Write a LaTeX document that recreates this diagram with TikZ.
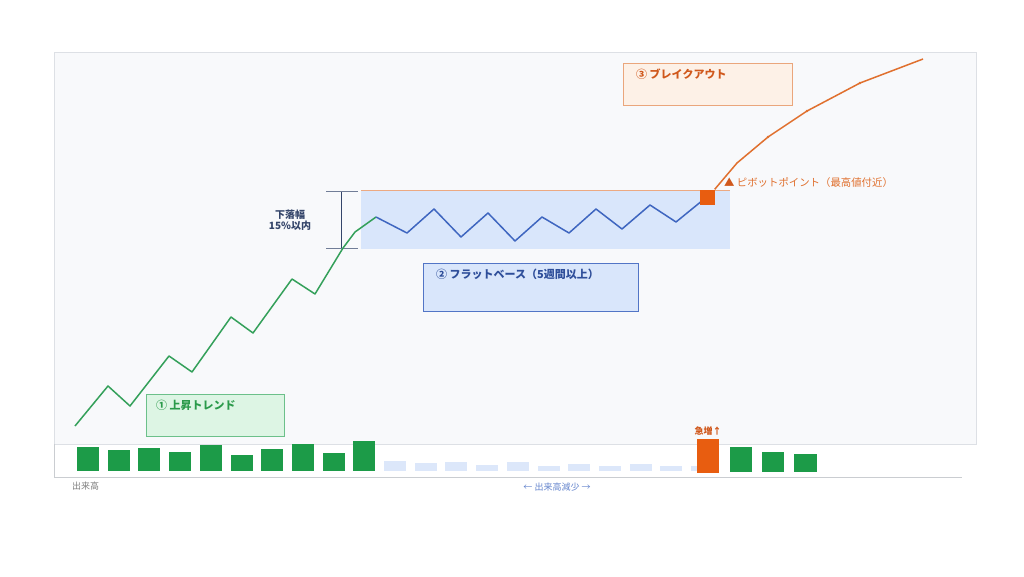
\documentclass[tikz,border=0pt]{standalone}
\usepackage{fontspec}
\setmainfont{Noto Sans CJK JP}
\definecolor{panelfill}{HTML}{F8F9FB}
\definecolor{panelline}{HTML}{DDE0E5}
\definecolor{gline}{HTML}{34A05A}
\definecolor{gbar}{HTML}{1C9B48}
\definecolor{bline}{HTML}{3F66C0}
\definecolor{bandfill}{HTML}{D9E6FB}
\definecolor{lbar}{HTML}{DCE7FA}
\definecolor{oline}{HTML}{E0702E}
\definecolor{osq}{HTML}{E85D10}
\definecolor{otext}{HTML}{D0581C}
\definecolor{navy}{HTML}{34456A}
\definecolor{gtext}{HTML}{2A9A4A}
\definecolor{btext}{HTML}{2E4E9A}
\definecolor{gboxfill}{HTML}{DDF5E4}
\definecolor{gboxline}{HTML}{6CC08A}
\definecolor{oboxfill}{HTML}{FDF1E7}
\definecolor{oboxline}{HTML}{EAA67C}
\tikzset{
  x=1pt,y=-1pt,
  label box/.style={draw,line width=1pt,anchor=north west,inner sep=0pt},
  label text/.style={anchor=west,font=\bfseries\fontsize{11}{13}\selectfont,inner sep=0pt},
  small text/.style={font=\fontsize{9}{10}\selectfont,inner sep=0pt},
  gbarstyle/.style={fill=gbar},
  lbarstyle/.style={fill=lbar},
}
\begin{document}
\begin{tikzpicture}
\useasboundingbox (0,0) rectangle (1024,576);
\fill[white] (0,0) rectangle (1024,576);
% panel
\draw[panelline,fill=panelfill,line width=0.8pt] (54,52) rectangle (976,444);
% volume area frame
\draw[panelline!80!gray,line width=0.8pt] (54,444) -- (54,477) -- (962,477);

% flat base band
\fill[bandfill] (361,190) rectangle (730,249);
\draw[oline!60,line width=0.7pt] (361,190) -- (730,190);

% measure bracket
\coordinate (mt) at (341,191);
\coordinate (mb) at (341,248);
\draw[navy,line width=0.8pt] (mt) -- (mb);
\draw[navy!70,line width=0.7pt] (326,191) -- (358,191) (326,248) -- (358,248);
\node[font=\bfseries\fontsize{10}{12}\selectfont,text=navy,align=center,inner sep=0pt] (drop) at (290,220) {下落幅\\[-1pt]15\%以内};

% label boxes
\node[label box,draw=gboxline,fill=gboxfill,minimum width=138pt,minimum height=42pt] (trendbox) at (146,394) {};
\node[label text,text=gtext] (trendtxt) at (156,405) {① 上昇トレンド};
\node[label box,draw=bline!90,fill=bandfill,minimum width=215pt,minimum height=48pt] (flatbox) at (423,263) {};
\node[label text,text=btext] (flattxt) at (436,274) {② フラットベース（5週間以上）};
\node[label box,draw=oboxline,fill=oboxfill,minimum width=169pt,minimum height=42pt] (breakbox) at (623,63) {};
\node[label text,text=otext] (breaktxt) at (636,74) {③ ブレイクアウト};

% green uptrend
\draw[gline,line width=1.5pt,line join=round]
  (75,426) -- (108,386) -- (130,406) -- (169,356) -- (192,372) -- (231,317)
  -- (253,333) -- (292,279) -- (315,294) -- (343,248) -- (355,232) -- (376,217);
% blue flat base
\draw[bline,line width=1.5pt,line join=round]
  (376,217) -- (407,233) -- (434,209) -- (461,237) -- (488,213) -- (515,241)
  -- (542,217) -- (569,233) -- (596,209) -- (622,229) -- (650,205) -- (676,222) -- (703,200);
% pivot square
\node[fill=osq,minimum size=15pt,inner sep=0pt] (pivot) at (707,197) {};
% orange breakout
\draw[oline,line width=1.5pt,line join=round]
  (pivot.north east) -- (737,163) -- (768,137) -- (807,111) -- (860,83) -- (923,59);
\foreach \p in {(768,137),(807,111),(860,83)} \fill[oline] \p circle (1.4);
\node[anchor=west,inner sep=0pt,font=\fontsize{10.4}{12}\selectfont,text=otext] (pivottxt) at (724,183) {▲ {\color{oline}ピボットポイント（最高値付近）}};

% volume bars
\foreach \t [count=\i from 0] in {447,450,448,452,445,455,449,444,453,441}
  \fill[gbarstyle] ({77+30.7*\i},\t) rectangle ({99+30.7*\i},471);
\foreach \t [count=\i from 10] in {461,463,462,465,462,466,464,466,464,466,466}
  \fill[lbarstyle] ({77+30.7*\i},\t) rectangle ({99+30.7*\i},471);
\node[fill=osq,anchor=north west,minimum width=22pt,minimum height=34pt,inner sep=0pt] (surge) at (697,439) {};
\node[anchor=south,inner sep=0pt,font=\bfseries\fontsize{9}{10}\selectfont,text=otext] (surgetxt) at ([yshift=3pt]surge.north) {急増↑};
\fill[gbarstyle] (730,447) rectangle (752,472);
\fill[gbarstyle] (762,452) rectangle (784,472);
\fill[gbarstyle] (794,454) rectangle (817,472);

% volume captions
\node[small text,text=gray,anchor=west] (voltxt) at (72,486) {出来高};
\node[small text,text=bline!80] (decr) at (557,487) {← 出来高減少 →};
\end{tikzpicture}
\end{document}
